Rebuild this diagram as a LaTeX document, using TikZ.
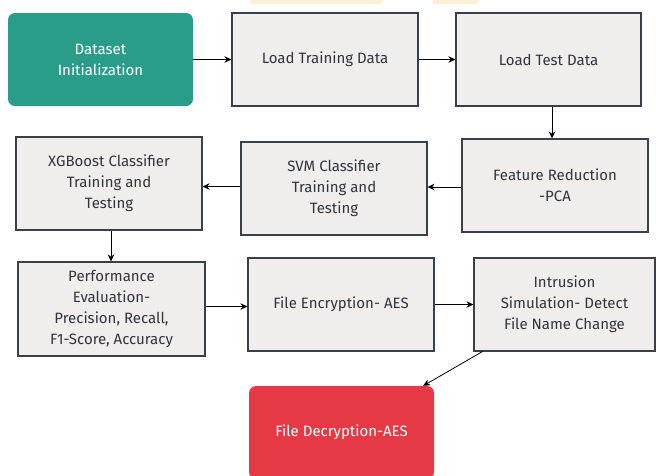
\documentclass[tikz,border=0pt]{standalone}
\usepackage{fontspec}
\setmainfont{Fira Sans}
\usetikzlibrary{arrows.meta}
\definecolor{stepteal}{HTML}{2A9D8A}
\definecolor{stepred}{HTML}{E63946}
\definecolor{stepgray}{HTML}{F0EEEC}
\definecolor{stepline}{HTML}{3A3F4A}
\definecolor{steptext}{HTML}{30343C}
\definecolor{bandorange}{HTML}{FEF0D6}
\begin{document}
\begin{tikzpicture}[x=1pt,y=-1pt,
	stepbox/.style={draw=stepline,line width=1.1pt,fill=stepgray,text=steptext,
		align=center,inner sep=2pt,minimum width=186pt,minimum height=93pt,
		font=\fontsize{15}{21}\selectfont},
	endbox/.style={fill=#1,text=white,rounded corners=7pt,align=center,
		inner sep=2pt,minimum width=185pt,minimum height=93pt,
		font=\fontsize{15}{21}\selectfont},
	arr/.style={-{Stealth[length=7pt,width=6.5pt]},line width=0.8pt,black}]
	\useasboundingbox (0,0) rectangle (656,475);
	\fill [bandorange] (250,0) rectangle (382,4);
	\fill [bandorange] (433,0) rectangle (478,4);
	% first row
	\node [endbox=stepteal] (data) at (100.5,59.5) {Dataset\\Initialization};
	\node [stepbox] (train) at (325,59.5) {Load Training Data};
	\node [stepbox,minimum width=185pt] (test) at (548.5,59.5) {Load Test Data};
	% second row
	\node [stepbox] (xgb) at (109,183.5) {XGBoost Classifier\\Training and\\Testing};
	\node [stepbox] (svm) at (334,188.5) {SVM Classifier\\Training and\\Testing};
	\node [stepbox] (pca) at (555,185.5) {Feature Reduction\\-PCA};
	% third row
	\node [stepbox,minimum width=187pt,minimum height=94pt] (perf) at (111.5,309) {Performance\\Evaluation-\\Precision, Recall,\\F1-Score, Accuracy};
	\node [stepbox] (enc) at (341,304.5) {File Encryption- AES};
	\node [stepbox,minimum width=181pt] (intr) at (564.5,304.5) {Intrusion\\Simulation- Detect\\File Name Change};
	% last step
	\node [endbox=stepred] (dec) at (341.5,432.5) {File Decryption-AES};
	% connectors
	\draw [arr] (data.east) -- (data.east -| train.west);
	\draw [arr] (train.east) -- (train.east -| test.west);
	\draw [arr] ([xshift=3.5pt]test.south) -- ([xshift=-3pt]pca.north);
	\draw [arr] ([yshift=-1.5pt]pca.west) -- ([yshift=-1.5pt]pca.west -| svm.east);
	\draw [arr] ([yshift=2pt]svm.west) -- ([yshift=2pt]svm.west -| xgb.east);
	\draw [arr] ([xshift=2pt]xgb.south) -- ([xshift=2pt]xgb.south |- perf.north);
	\draw [arr] ([yshift=2.5pt]perf.east) -- ([yshift=2.5pt]perf.east -| enc.west);
	\draw [arr] (enc.east) -- (enc.east -| intr.west);
	\draw [arr] ([xshift=9pt]intr.south west) -- ([xshift=-11pt]dec.north east);
\end{tikzpicture}
\end{document}
